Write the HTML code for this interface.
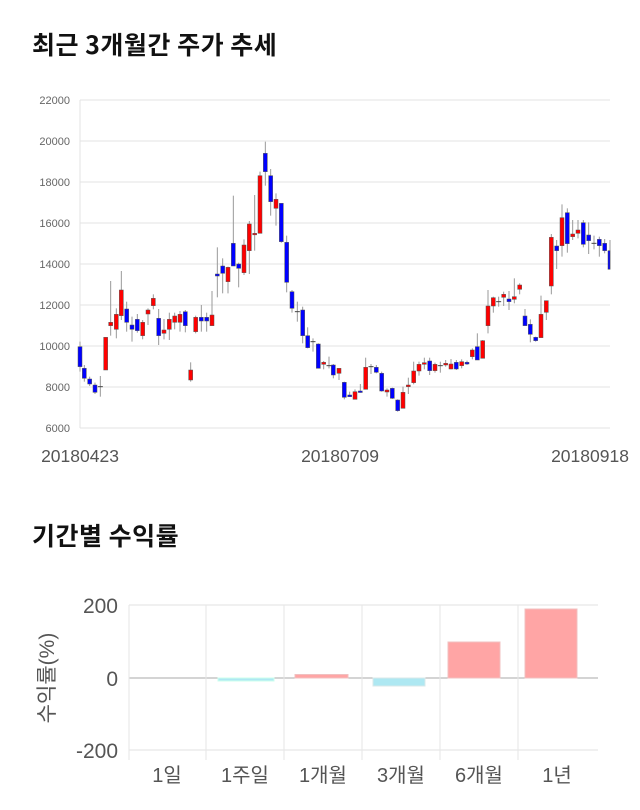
<!DOCTYPE html>
<html><head><meta charset="utf-8"><style>
body{margin:0;background:#fff;width:640px;height:810px;overflow:hidden;font-family:"Liberation Sans","Noto Sans CJK KR",sans-serif;}
.t{position:absolute;left:32px;font-size:25px;font-weight:bold;color:#111;font-family:"Noto Sans CJK KR",sans-serif;letter-spacing:0.5px;}
</style></head><body>
<div class="t" style="top:26px">최근 3개월간 주가 추세</div>
<div class="t" style="top:517px">기간별 수익률</div>
<svg id="s" width="640" height="810" style="position:absolute;left:0;top:0" xmlns="http://www.w3.org/2000/svg"></svg>
<script>
var s='';
function L(x1,y1,x2,y2,c,w){s+='<line x1="'+x1+'" y1="'+y1+'" x2="'+x2+'" y2="'+y2+'" stroke="'+c+'" stroke-width="'+(w||1)+'"/>';}
function T(x,y,t,sz,a,c,ex){s+='<text x="'+x+'" y="'+y+'" font-size="'+sz+'" text-anchor="'+a+'" fill="'+c+'" '+(ex||'')+'>'+t+'</text>';}
for(var v=6000;v<=22000;v+=2000){var y=100+(22000-v)*0.0205;L(80,y,610,y,'#e3e3e3');T(70,y+4,v,11,'end','#666');}
L(80,100,80,428,'#e3e3e3');
T(80,462,'20180423',17.5,'middle','#555');T(340,462,'20180709',17.5,'middle','#555');T(590,462,'20180918',17.5,'middle','#555');
var c1=[[120,'b',770,830,755,845],[133,'b',835,865,825,875],[149,'b',867,882,860,888],[165,'b',885,907,878,912],[181,'d',890,890,858,920],[197,'r',742,840,742,840],[212,'r',697,707,573,737],[229,'r',673,718,655,745],[244,'r',600,677,543,690],[260,'b',657,697,635,725],[276,'b',705,718,680,755],[292,'b',688,722,672,728],[308,'r',697,737,690,748],[324,'r',660,672,655,705],[340,'r',625,647,613,658],[356,'b',685,737,657,765],[372,'r',720,730,687,748],[388,'r',688,718,668,750],[404,'r',678,697,668,718],[420,'r',673,697,663,725],[436,'b',665,707,660,727],[452,'r',840,870,817,875],[467,'r',682,725,677,730],[484,'b',682,693,645,725],[500,'b',682,693,668,725],[516,'r',675,707,603,707],[532,'b',552,558,472,622],[548,'b',528,550,505,610],[564,'r',532,575,530,610],[580,'b',460,528,317,528],[596,'b',522,535,518,592],[612,'r',465,548,448,555],[628,'r',402,482,393,552],[644,'r',430,433,315,482],[660,'r',257,430,245,430],[676,'b',190,245,155,287],[692,'b',257,335,237,377],[708,'r',328,355,310,407],[724,'b',340,455,340,458],[740,'b',457,577,437,607],[756,'b',605,655,600,668],[772,'d',665,665,635,695],[788,'b',660,737,650,760],[803,'b',737,773,712,775],[819,'d',755,755,745,785],[835,'b',762,835,760,835],[851,'r',817,823,813,838],[867,'d',827,827,800,835]];
var c2=[[10,'b',825,855,822,865],[27,'r',835,850,835,870],[43,'b',877,922,875,928],[59,'b',915,920,905,920],[75,'r',905,928,898,928],[91,'b',903,906,882,908],[107,'r',832,898,803,898],[123,'d',830,830,822,852],[139,'b',832,847,825,850],[155,'b',850,903,845,905],[171,'r',900,906,895,920],[187,'b',895,925,893,927],[203,'b',930,962,928,965],[219,'r',907,955,890,955],[235,'r',885,890,863,912],[251,'r',843,878,815,883],[267,'r',823,843,815,857],[283,'r',818,823,803,838],[299,'b',813,842,803,855],[315,'r',823,842,818,848],[331,'d',827,827,815,848],[347,'r',820,825,810,830],[363,'r',822,837,807,838],[379,'b',817,837,810,840],[395,'r',815,827,808,835],[411,'b',817,822,812,825],[427,'r',780,800,775,808],[442,'b',770,810,730,810],[458,'r',752,805,750,805],[474,'r',648,707,600,730],[490,'r',623,648,620,668],[506,'d',635,635,620,650],[521,'r',613,622,605,648],[537,'b',627,635,603,660],[553,'r',620,628,565,640],[569,'r',585,598,580,613],[585,'b',678,707,657,707],[601,'b',703,733,688,757],[617,'b',742,752,740,755],[633,'r',673,743,617,743],[649,'r',632,667,632,690],[664,'r',442,588,432,613],[680,'b',468,482,450,537],[696,'r',383,467,343,500],[712,'b',368,461,355,488],[728,'r',432,440,390,450],[744,'r',420,430,390,445],[760,'b',398,463,390,472],[776,'b',435,452,397,492],[792,'d',460,460,437,478],[808,'b',448,467,440,500],[824,'b',460,482,447,490],[840,'b',482,538,450,538]];
function draw(a,ox){a.forEach(function(c){var x=ox+c[0]/3,bt=90+c[2]/3,bb=90+c[3]/3,wt=90+c[4]/3,wb=90+c[5]/3;
L(x,wt,x,wb,'#999');
if(c[1]=='d'){L(x-2.5,bt,x+2.5,bt,'#444');return;}
var col=c[1]=='r'?'#f00':'#00f';var w=x+2>610?610-(x-2):4;
s+='<rect x="'+(x-2)+'" y="'+bt+'" width="'+w+'" height="'+Math.max(bb-bt,1.5)+'" fill="'+col+'" stroke="#555" stroke-width="0.5"/>';});}
draw(c1,40);draw(c2,330);
[605,678,750].forEach(function(y,i){L(129,y,598,y,i==1?'#aaa':'#e0e0e0');T(118,y+8,['200','0','-200'][i],21,'end','#555');});
[129,206,284,362,440,518].forEach(function(x){L(x,605,x,760,'#e6e6e6');});
s+='<rect x="218" y="678" width="56" height="3" fill="#aee8f2" stroke="#cfe" />';
s+='<rect x="295" y="674.5" width="53" height="3.5" fill="#ffa5a5" stroke="#f0c0c0"/>';
s+='<rect x="373" y="678" width="52" height="8" fill="#aee8f2" stroke="#d8e8ea"/>';
s+='<rect x="448" y="642" width="52" height="36" fill="#ffa5a5" stroke="#f0c0c0"/>';
s+='<rect x="525" y="609" width="52" height="69" fill="#ffa5a5" stroke="#f0c0c0"/>';
['1일','1주일','1개월','3개월','6개월','1년'].forEach(function(t,i){T(167+i*78,782,t,20,'middle','#555','font-family="Liberation Sans,Noto Sans CJK KR,sans-serif"');});
s+='<text x="0" y="0" font-size="21" fill="#555" text-anchor="middle" transform="translate(54,678) rotate(-90)">수익률(%)</text>';
document.getElementById('s').innerHTML=s;
</script>
</body></html>
